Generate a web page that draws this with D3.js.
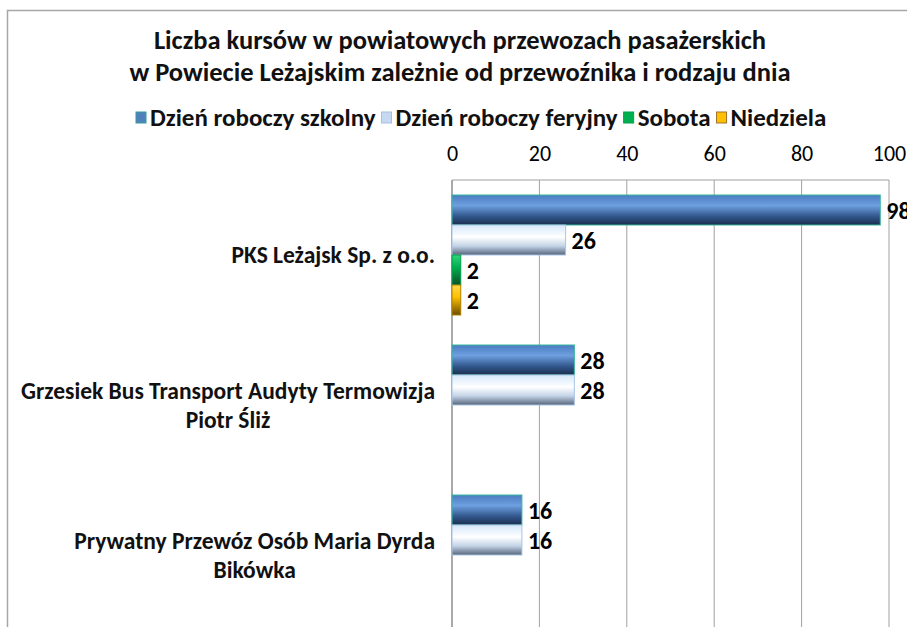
<!DOCTYPE html>
<html>
<head>
<meta charset="utf-8">
<script src="https://cdn.jsdelivr.net/npm/d3@7"></script>
<style>
  body { margin: 0; background: #fff; }
  text { font-family: Carlito, Calibri, "Open Sans", sans-serif; }
</style>
</head>
<body>
<div id="chart"></div>
<script>
// data
var carriers = [
  ["PKS Leżajsk Sp. z o.o."],
  ["Grzesiek Bus Transport Audyty Termowizja", "Piotr Śliż"],
  ["Prywatny Przewóz Osób Maria Dyrda", "Bikówka"]
];
var seriesNames = ["Dzień roboczy szkolny", "Dzień roboczy feryjny", "Sobota", "Niedziela"];
var szkolny = [98, 28, 16];
var feryjny = [26, 28, 16];
var sobota = [2, null, null];
var niedziela = [2, null, null];
var xTicks = [0, 20, 40, 60, 80, 100];
var titleLines = ["Liczba kursów w powiatowych przewozach pasażerskich",
                  "w Powiecie Leżajskim  zależnie od przewoźnika i rodzaju dnia"];

var allSeries = [szkolny, feryjny, sobota, niedziela];

var width = 907, height = 627;

var svg = d3.select("#chart")
  .append("svg")
    .attr("width", width)
    .attr("height", height);

// gradients for the bars
var defs = svg.append("defs");
var grads = [
  [["0%", "#4a7cc0"], ["35%", "#6e9fe0"], ["70%", "#33598f"], ["100%", "#1a2e4d"]],
  [["0%", "#d6e8fa"], ["40%", "#ffffff"], ["70%", "#c3d3e6"], ["100%", "#56657a"]],
  [["0%", "#2fd47a"], ["40%", "#00b050"], ["100%", "#0b4f28"]],
  [["0%", "#ffd84a"], ["40%", "#ffc000"], ["100%", "#6b4c00"]]
];
var strokes = ["#39b5a0", "#a9c4e4", "#00a04a", "#b08000"];
var swatch = ["#4f81bd", "#c6d9f1", "#00b050", "#ffc000"];
var swatchStroke = ["#3b9a9a", "#a7bfdf", "#00a04a", "#a0722a"];

grads.forEach(function(stops, i) {
  var g = defs.append("linearGradient")
    .attr("id", "g" + i)
    .attr("x1", 0).attr("y1", 0).attr("x2", 0).attr("y2", 1);
  stops.forEach(function(s) {
    g.append("stop").attr("offset", s[0]).attr("stop-color", s[1]);
  });
});

// chart frame
svg.append("rect")
  .attr("x", 7.5).attr("y", 10.5)
  .attr("width", 950).attr("height", 700)
  .attr("fill", "none")
  .attr("stroke", "#a6a6a6")
  .attr("stroke-width", 1.5);

// title
svg.selectAll(".title")
  .data(titleLines)
  .enter().append("text")
    .attr("class", "title")
    .attr("x", 460)
    .attr("y", function(d, i) { return 49 + i * 32; })
    .attr("text-anchor", "middle")
    .attr("font-size", 26.5)
    .attr("font-weight", "bold")
    .attr("fill", "#111")
    .text(function(d) { return d; });

// scales
var x = d3.scaleLinear()
  .domain([0, 100])
  .range([452, 889]);

var y = d3.scaleBand()
  .domain(d3.range(carriers.length))
  .range([180, 630])
  .paddingInner(0.2)
  .paddingOuter(0.1);

var ySub = d3.scaleBand()
  .domain(d3.range(seriesNames.length))
  .range([0, y.bandwidth()]);

// gridlines
svg.selectAll(".grid")
  .data(xTicks)
  .enter().append("line")
    .attr("x1", function(d) { return x(d); })
    .attr("x2", function(d) { return x(d); })
    .attr("y1", 180)
    .attr("y2", 640)
    .attr("stroke", function(d) { return d === 0 ? "#8c8c8c" : "#a0a0a0"; })
    .attr("stroke-width", function(d) { return d === 0 ? 1.5 : 1; });

svg.append("line")
  .attr("x1", x(0)).attr("x2", x(100))
  .attr("y1", 180).attr("y2", 180)
  .attr("stroke", "#a0a0a0");

// top axis
var axis = svg.append("g")
  .attr("transform", "translate(0,161)")
  .call(d3.axisTop(x).tickValues(xTicks).tickSize(0).tickPadding(0));
axis.select(".domain").remove();
axis.selectAll("text")
  .attr("font-size", 22)
  .attr("fill", "#000")
  .style("font-family", "Carlito, Calibri, 'Open Sans', sans-serif");

// bars
var groups = svg.selectAll(".grp")
  .data(carriers)
  .enter().append("g")
    .attr("transform", function(d, i) { return "translate(0," + y(i) + ")"; });

groups.each(function(c, ci) {
  var g = d3.select(this);
  allSeries.forEach(function(s, si) {
    var v = s[ci];
    if (v === null) return;
    g.append("rect")
      .attr("x", x(0))
      .attr("y", ySub(si))
      .attr("width", x(v) - x(0))
      .attr("height", ySub.bandwidth())
      .attr("fill", "url(#g" + si + ")")
      .attr("stroke", strokes[si])
      .attr("stroke-width", 1);
    g.append("text")
      .attr("x", x(v) + 6)
      .attr("y", ySub(si) + ySub.bandwidth() / 2)
      .attr("dy", "0.36em")
      .attr("font-size", 24)
      .attr("font-weight", "bold")
      .text(v);
  });
});

// category labels
carriers.forEach(function(lines, i) {
  var t = svg.append("text")
    .attr("font-size", 23.5)
    .attr("font-weight", "bold")
    .attr("fill", "#111");
  var cy = y(i) + y.bandwidth() / 2;
  var top = cy - (lines.length - 1) * 29 / 2;
  lines.forEach(function(line, li) {
    t.append("tspan")
      .attr("x", 435)
      .attr("y", top + li * 29)
      .attr("dy", "0.35em")
      .attr("text-anchor", "end")
      .text(line);
  });
  // second lines are centred under the first
  if (lines.length > 1) {
    var spans = t.selectAll("tspan").nodes();
    var w = spans[0].getComputedTextLength();
    d3.select(spans[1]).attr("x", 435 - w / 2).attr("text-anchor", "middle");
  }
});

// legend
var legend = svg.append("g").attr("transform", "translate(0,117)");
var lx = 136;
seriesNames.forEach(function(name, i) {
  legend.append("rect")
    .attr("x", lx).attr("y", -5)
    .attr("width", 10).attr("height", 11)
    .attr("fill", swatch[i])
    .attr("stroke", swatchStroke[i]);
  var t = legend.append("text")
    .attr("x", lx + 14)
    .attr("y", 0)
    .attr("dy", "0.35em")
    .attr("font-size", 25)
    .attr("font-weight", "bold")
    .attr("fill", "#111")
    .text(name);
  lx += 14 + t.node().getComputedTextLength() + 6;
});
</script>
</body>
</html>
